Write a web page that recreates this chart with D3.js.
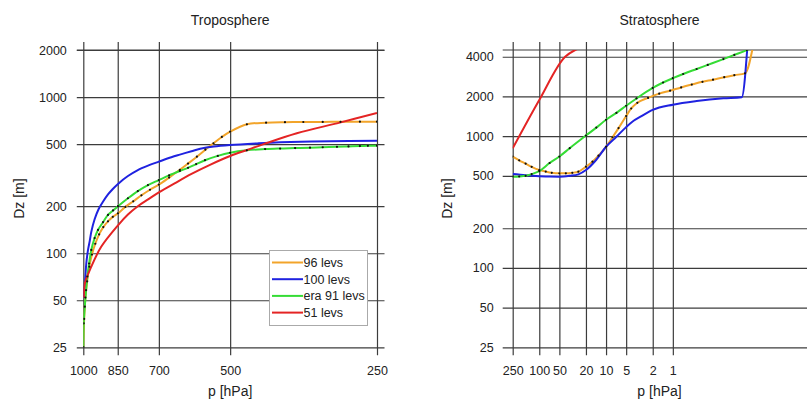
<!DOCTYPE html>
<html><head><meta charset="utf-8">
<script src="https://cdn.jsdelivr.net/npm/d3@7"></script>
<style>body{margin:0;background:#fff}svg{display:block}</style>
</head><body><svg id="c" width="807" height="401"></svg>
<script>
// ---- data ----
const seriesNames = ["96 levs", "100 levs", "era 91 levs", "51 levs"];
const seriesColors = ["#f2a42a", "#1f22e0", "#35dc35", "#e42424"];
const seriesDots = [true, false, true, false];

const tropoTicksX = [1000, 850, 700, 500, 250];
const tropoTicksY = [25, 50, 100, 200, 500, 1000, 2000];
const stratTicksX = [250, 100, 50, 20, 10, 5, 2, 1];
const stratTicksY = [25, 50, 100, 200, 500, 1000, 2000, 4000];

// Troposphere: [p hPa, Dz m]
const tropo96 = [[1000,25],[996,38],[990,52],[982,66],[972,82],[960,98],[945,115],[928,132],[910,147],[890,160],[870,171],[849,180],[820,198],[790,215],[760,235],[730,255],[700,275],[667,305],[634,342],[610,375],[585,415],[562,460],[541,506],[520,555],[500,600],[462,669],[422,685],[386,690],[354,692],[323,693],[297,694],[271,695],[250,695]];
const tropo100 = [[998,52],[995,58],[990,72],[986,86],[978,105],[970,120],[963,137],[948,165],[930,192],[910,215],[890,238],[870,258],[849,278],[810,312],[773,341],[735,365],[700,386],[660,412],[634,428],[600,450],[576,466],[540,482],[500,493],[440,505],[395,513],[312,522],[250,525]];
const tropo91 = [[1000,25],[998,35.6],[993,45.5],[987,58],[981,71],[973,86],[963,105],[948,125],[933,141],[911,158],[890,176],[869,188],[849,200],[810,225],[773,250],[737,273],[700,294],[667,315],[634,336],[610,352],[587,372],[563,394],[530,420],[500,440],[462,456],[424,464],[395,468],[368,471],[343,474],[323,477],[302,480],[286,483],[271,485],[261,487],[250,488]];
const tropo51 = [[997,52],[993,64],[963,82],[919,110],[849,151],[810,177],[773,200],[735,222],[700,245],[650,280],[600,322],[550,368],[500,419],[460,460],[428,498],[365,586],[298,686],[250,790]];

// Stratosphere: [p hPa, Dz m]
const strat96 = [[250,698],[200,655],[160,618],[130,585],[100,553],[80,538],[65,527],[50,522],[40,522],[32,527],[26,537],[20,586],[16,640],[13,710],[10,830],[8,980],[6.5,1150],[5,1420],[4.2,1620],[3.4,1790],[2.35,1950],[1.6,2100],[1.1,2210],[0.75,2340],[0.52,2460],[0.36,2580],[0.25,2680],[0.17,2800],[0.12,2900],[0.083,2992],[0.062,5000]];
const strat100 = [[250,515],[160,505],[100,497],[70,493],[50,492],[35,500],[26,513],[20,553],[14.1,659],[10,830],[7,990],[5,1170],[4,1290],[3,1410],[2,1580],[1,1730],[0.44,1845],[0.175,1934],[0.093,1970],[0.075,5470]];
const strat91 = [[250,492],[200,494],[160,500],[130,515],[100,543],[70,625],[50,700],[35,810],[20,1010],[14,1160],[10,1330],[7,1500],[5,1700],[3.5,1930],[2,2320],[1.4,2550],[1,2750],[0.7,2960],[0.44,3230],[0.3,3470],[0.175,3840],[0.12,4130],[0.078,4497],[0.065,4700]];
const strat51 = [[250,807],[100,1877],[41,4000],[29,4500],[25,4650]];

// ---- drawing ----
const svg = d3.select("#c");
const FONT = "'Liberation Sans', Arial, Helvetica, sans-serif";
const TXT = "#222";
const GRID = "#3c3c3c";

function panel(cfg) {
  const x = d3.scaleLog().domain(cfg.xDomain).range(cfg.xRange);
  const y = d3.scaleLog().domain(cfg.yDomain).range([347.3, 50]);
  const [x0, x1] = cfg.xRange;
  const y0 = 347.3, y1 = 50;
  const g = svg.append("g");

  const cid = "clip" + cfg.id;
  svg.append("defs").append("clipPath").attr("id", cid)
    .append("rect").attr("x", x0).attr("y", y1).attr("width", x1 - x0).attr("height", y0 - y1);

  const ax = g.append("g").attr("transform", `translate(${x0 - cfg.extL},0)`)
    .call(d3.axisLeft(y).tickValues(cfg.yTicks).tickFormat(d3.format("d"))
      .tickSize(-(x1 - x0 + cfg.extL + cfg.extR)).tickPadding(cfg.padY));
  ax.select(".domain").remove();
  ax.selectAll("line").attr("stroke", GRID).attr("stroke-width", 1.2);
  ax.selectAll("text").attr("font-family", FONT).attr("font-size", 12.5).attr("fill", TXT);

  g.append("line").attr("x1", x0 - cfg.extL).attr("x2", x1 + cfg.extR)
    .attr("y1", y(cfg.yDomain[1])).attr("y2", y(cfg.yDomain[1]))
    .attr("stroke", GRID).attr("stroke-width", 1.2);

  const bx = g.append("g").attr("transform", `translate(0,${y0 + 8})`)
    .call(d3.axisBottom(x).tickValues(cfg.xTicks).tickFormat(d3.format("d"))
      .tickSize(-(y0 - y1 + 16)).tickPadding(11));
  bx.select(".domain").remove();
  bx.selectAll("line").attr("stroke", GRID).attr("stroke-width", 1.2);
  bx.selectAll("text").attr("font-family", FONT).attr("font-size", 12.5).attr("fill", TXT);

  const line = d3.line().x(d => x(d[0])).y(d => y(d[1])).curve(cfg.curve);
  const lg = svg.append("g").attr("clip-path", `url(#${cid})`);
  cfg.series.forEach((s, i) => {
    lg.append("path").datum(s).attr("d", line).attr("fill", "none")
      .attr("stroke", seriesColors[i]).attr("stroke-width", 2);
  });
  cfg.series.forEach((s, i) => {
    if (!seriesDots[i]) return;
    lg.selectAll(null).data(s).enter().append("circle")
      .attr("cx", d => x(d[0])).attr("cy", d => y(d[1])).attr("r", 1.1).attr("fill", "#111");
  });

  const cx = (x0 + x1) / 2;
  svg.append("text").attr("x", cx).attr("y", 25).attr("text-anchor", "middle")
    .attr("font-family", FONT).attr("font-size", 14).attr("fill", TXT).text(cfg.title);
  svg.append("text").attr("x", cx).attr("y", 396).attr("text-anchor", "middle")
    .attr("font-family", FONT).attr("font-size", 14).attr("fill", TXT).text("p [hPa]");
  svg.append("text").attr("transform", `translate(${cfg.yLabelX},${(y0 + y1) / 2}) rotate(-90)`)
    .attr("text-anchor", "middle").attr("dy", "0.35em")
    .attr("font-family", FONT).attr("font-size", 14).attr("fill", TXT).text("Dz [m]");
  return {x, y};
}

panel({id: "L", title: "Troposphere", xDomain: [1000, 250], xRange: [83.3, 377], yDomain: [25, 2000],
  xTicks: tropoTicksX, yTicks: tropoTicksY, extL: 6.5, extR: 7.5, padY: 10, yLabelX: 19,
  curve: d3.curveCatmullRom.alpha(0.5),
  series: [tropo96, tropo100, tropo91, tropo51]});
panel({id: "R", title: "Stratosphere", xDomain: [250, 0.01], xRange: [512.7, 806.4], yDomain: [25, 4500],
  xTicks: stratTicksX, yTicks: stratTicksY, extL: 10, extR: 5, padY: 9, yLabelX: 447,
  curve: d3.curveMonotoneX,
  series: [strat96, strat100, strat91, strat51]});

const lgd = svg.append("g");
lgd.append("rect").attr("x", 269.5).attr("y", 250.5).attr("width", 98).attr("height", 75)
  .attr("fill", "#fff").attr("stroke", "#aaa").attr("stroke-width", 1);
seriesNames.forEach((n, i) => {
  const yy = 262.5 + i * 16.7;
  lgd.append("line").attr("x1", 272).attr("x2", 303).attr("y1", yy).attr("y2", yy)
    .attr("stroke", seriesColors[i]).attr("stroke-width", 2);
  lgd.append("text").attr("x", 303.5).attr("y", yy).attr("dy", "0.36em")
    .attr("font-family", FONT).attr("font-size", 12.5).attr("fill", TXT).text(n);
});
</script>
</body></html>
